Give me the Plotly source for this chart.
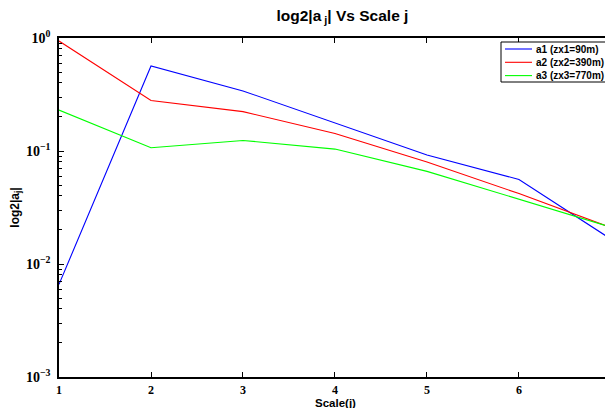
import plotly.graph_objects as go

# Wavelet scale index
scales = [1, 2, 3, 4, 5, 6, 7]

# log2|a_j| magnitudes per scale for the three depth settings
a1 = [0.0066, 0.565, 0.34, 0.178, 0.092, 0.056, 0.0166]
a2 = [0.94, 0.28, 0.223, 0.143, 0.080, 0.042, 0.021]
a3 = [0.23, 0.107, 0.124, 0.104, 0.066, 0.0375, 0.0212]

series_names = ["a1 (zx1=90m)", "a2 (zx2=390m)", "a3 (zx3=770m)"]
series_colors = ["#0000ff", "#ff0000", "#00ff00"]

x_ticks = [1, 2, 3, 4, 5, 6, 7]
y_ticks = [0.001, 0.01, 0.1, 1]
y_tick_text = ["10<sup>\u22123</sup>", "10<sup>\u22122</sup>", "10<sup>\u22121</sup>", "10<sup>0</sup>"]

W, H = 605, 408
ML, MR, MT, MB = 59, 0, 38, 31

fig = go.Figure()
for name, vals, col in zip(series_names, [a1, a2, a3], series_colors):
    fig.add_trace(go.Scatter(
        x=scales, y=vals, mode="lines", name=name,
        line=dict(color=col, width=1.1), showlegend=False,
    ))

# Pixel layout -> paper coordinates
def px_x(p):
    return (p - ML) / (W - ML - MR)

def px_y(p):
    return 1 - (p - MT) / (H - MT - MB)

# Compact boxed legend in the upper-right corner
shapes = [dict(type="rect", xref="paper", yref="paper",
               x0=px_x(501), x1=px_x(606), y0=px_y(82), y1=px_y(42),
               line=dict(color="black", width=1), fillcolor="white", layer="above")]
annotations = []
for i, (name, col) in enumerate(zip(series_names, series_colors)):
    yy = 49 + i * 13.3
    shapes.append(dict(type="line", xref="paper", yref="paper",
                       x0=px_x(505), x1=px_x(532), y0=px_y(yy), y1=px_y(yy),
                       line=dict(color=col, width=1.1), layer="above"))
    annotations.append(dict(xref="paper", yref="paper", x=px_x(534), y=px_y(yy),
                            xanchor="left", yanchor="middle", showarrow=False,
                            text=f"<b>{name}</b>",
                            font=dict(family="Liberation Sans", size=10, color="black")))

# x-axis label sitting right at the bottom edge
annotations.append(dict(xref="paper", yref="paper", x=px_x(335), y=px_y(410),
                        xanchor="center", yanchor="bottom", showarrow=False,
                        text="<b>Scale(j)</b>", borderpad=0,
                        font=dict(family="Liberation Sans", size=11.5, color="black")))

minor_vals = [m * 10 ** e for e in (-3, -2, -1) for m in range(2, 10)]

tick_font = dict(family="Liberation Serif", size=14, color="black")

fig.update_layout(
    width=W, height=H,
    margin=dict(l=ML, r=MR, t=MT, b=MB),
    paper_bgcolor="white", plot_bgcolor="white",
    title=dict(
        text="<b>log2|a<sub> j</sub>| Vs Scale j</b>",
        x=0.566, xanchor="center", y=0.975, yanchor="top",
        font=dict(family="Liberation Sans", size=15.5, color="black"),
    ),
    shapes=shapes,
    annotations=annotations,
    xaxis=dict(
        range=[1, 6.935], tickvals=x_ticks,
        ticktext=[f"<b>{v}</b>" for v in x_ticks],
        ticks="inside", ticklen=5, tickwidth=1, tickcolor="black",
        showline=True, linecolor="black", linewidth=1.5, mirror="ticks",
        showgrid=False, zeroline=False,
        tickfont=dict(family="Liberation Serif", size=12, color="black"),
        ticklabelstandoff=1, automargin=False,
    ),
    yaxis=dict(
        type="log", range=[-3, 0], tickvals=y_ticks,
        ticktext=[f"<b>{t}</b>" for t in y_tick_text],
        ticks="inside", ticklen=5, tickwidth=1, tickcolor="black",
        showline=True, linecolor="black", linewidth=1.5, mirror=False,
        showgrid=False, zeroline=False, tickfont=tick_font,
        ticklabelstandoff=4, automargin=False,
        minor=dict(tickvals=minor_vals, ticks="inside", ticklen=3,
                   tickcolor="black", showgrid=False),
        title=dict(text="<b>log2|a<sub>j</sub>|</b>", standoff=4,
                   font=dict(family="Liberation Sans", size=12, color="black")),
    ),
)

fig.write_html("out.html")
